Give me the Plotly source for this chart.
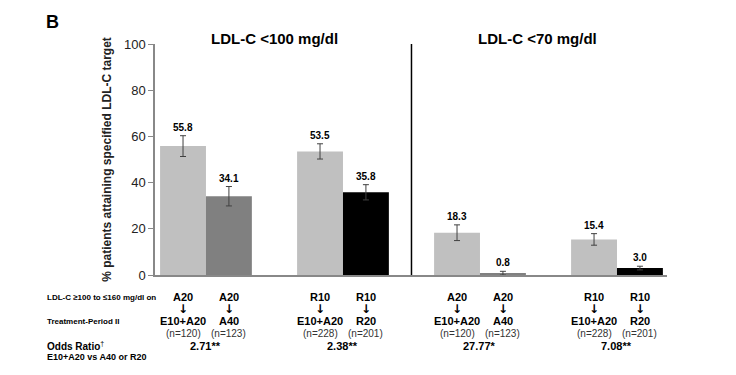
import plotly.graph_objects as go

groups = [0, 1, 2, 3]
combo_vals = [55.8, 53.5, 18.3, 15.4]
combo_err = [4.5, 3.3, 3.4, 2.5]
comp_vals = [34.1, 35.8, 0.8, 3.0]
comp_err = [4.2, 3.3, 0.8, 0.8]
comp_colors = ["#808080", "#000000", "#808080", "#000000"]
combo_color = "#c0c0c0"

period1 = [["A20", "A20"], ["R10", "R10"], ["A20", "A20"], ["R10", "R10"]]
period2 = [["E10+A20", "A40"], ["E10+A20", "R20"], ["E10+A20", "A40"], ["E10+A20", "R20"]]
n_labels = [["(n=120)", "(n=123)"], ["(n=228)", "(n=201)"], ["(n=120)", "(n=123)"], ["(n=228)", "(n=201)"]]
odds = ["2.71**", "2.38**", "27.77*", "7.08**"]
panel_titles = ["LDL-C <100 mg/dl", "LDL-C <70 mg/dl"]

FONT = "Arial, Liberation Sans, sans-serif"
bargap = 0.33
w = (1 - bargap) / 2

# page body margin offset (browser default 8px)
OFF = 8
W, H = 736 - OFF, 375 - OFF
L, R = 155 - OFF, 667 - OFF      # plot area x in figure px
top, bottom = 44 - OFF, 275 - OFF  # plot area y in figure px


def py(ypix):
    return (bottom - (ypix - OFF)) / (bottom - top)


def px(xpix):
    return ((xpix - OFF) - L) / (R - L)


fig = go.Figure()
err_style = dict(type="data", color="#404040", thickness=1, width=3)
fig.add_trace(go.Bar(x=groups, y=combo_vals, marker=dict(color=combo_color, line=dict(width=0)),
                     error_y=dict(array=combo_err, **err_style), showlegend=False))
fig.add_trace(go.Bar(x=groups, y=comp_vals, marker=dict(color=comp_colors, line=dict(width=0)),
                     error_y=dict(array=comp_err, **err_style), showlegend=False))


def txt(x, y, text, size=11, color="#000", xref="x", xanchor="center", family=FONT):
    return dict(x=x, y=y, xref=xref, yref="paper", text=text, showarrow=False,
                xanchor=xanchor, yanchor="middle", font=dict(size=size, color=color, family=family))


ann = []
for i, g in enumerate(groups):
    for j, (v, e) in enumerate([(combo_vals[i], combo_err[i]), (comp_vals[i], comp_err[i])]):
        xc = g - w / 2 if j == 0 else g + w / 2
        ann.append(dict(x=xc, y=v + e, xref="x", yref="y", text=f"<b>{v:.1f}</b>", showarrow=False,
                        yanchor="bottom", yshift=1, font=dict(size=10, color="#000", family=FONT)))
        ann.append(txt(xc, py(297), "<b>" + period1[i][j] + "</b>"))
        ann.append(txt(xc, py(309), "<b>↓</b>", size=12, family="DejaVu Sans"))
        ann.append(txt(xc, py(321), "<b>" + period2[i][j] + "</b>"))
        ann.append(txt(xc, py(333), n_labels[i][j], size=10, color="#333"))
    ann.append(txt(g, py(346), "<b>" + odds[i] + "</b>", size=11))

left_texts = [("<b>LDL-C ≥100 to ≤160 mg/dl on</b>", 297, 8),
              ("<b>Treatment-Period II</b>", 321, 8),
              ("<b>Odds Ratio</b><sup>†</sup>", 346, 10),
              ("<b>E10+A20 vs A40 or R20</b>", 357, 9)]
for t, yp, s in left_texts:
    ann.append(txt(px(45), py(yp), t, size=s, xref="paper", xanchor="left"))

ann.append(txt(0.5, py(39), "<b>" + panel_titles[0] + "</b>", size=15))
ann.append(txt(2.42, py(39), "<b>" + panel_titles[1] + "</b>", size=15))
ann.append(txt(px(52), py(22), "<b>B</b>", size=18, xref="paper"))

fig.update_layout(
    width=W, height=H,
    margin=dict(l=L, r=W - R, t=top, b=H - bottom, autoexpand=False),
    paper_bgcolor="white", plot_bgcolor="white",
    barmode="group", bargap=bargap, bargroupgap=0,
    font=dict(family=FONT, color="#000"),
    xaxis=dict(range=[-0.372, 3.365], showticklabels=False, ticks="", showgrid=False, zeroline=False,
               showline=True, linecolor="#888", linewidth=1.5, mirror=False),
    yaxis=dict(range=[0, 100], tickvals=[0, 20, 40, 60, 80, 100], ticks="outside", ticklen=5,
               tickcolor="#888", showgrid=False, zeroline=False, showline=True, linecolor="#888",
               linewidth=1.5, tickfont=dict(size=13, color="#222", family=FONT),
               title=dict(text="<b>% patients attaining specified LDL-C target</b>", standoff=10,
                          font=dict(size=12, color="#222", family=FONT))),
    annotations=ann,
    shapes=[dict(type="line", xref="x", yref="y", x0=1.5, x1=1.5, y0=0, y1=100,
                 line=dict(color="#000", width=1.5))],
)

fig.write_html("out.html")
